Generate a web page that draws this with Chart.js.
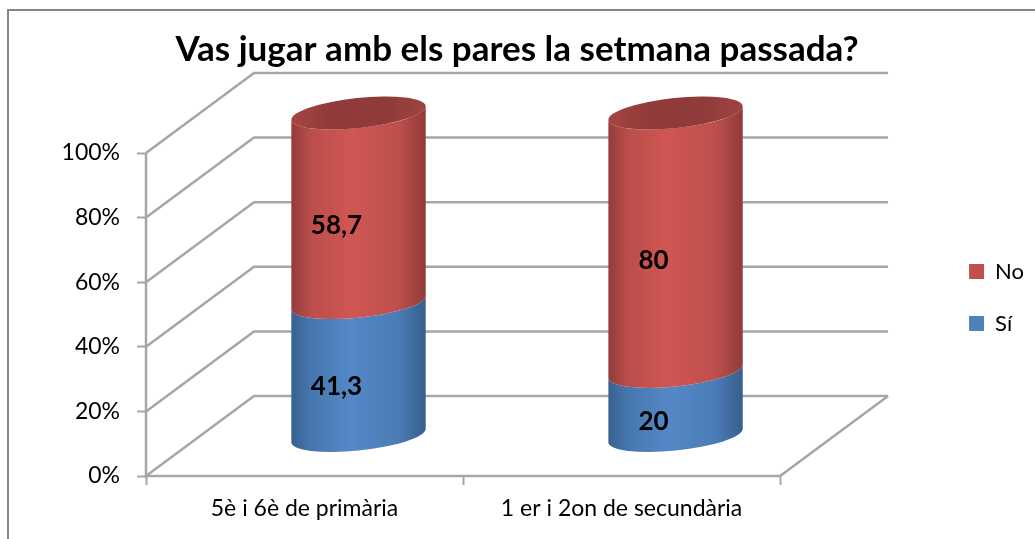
<!DOCTYPE html>
<html>
<head>
<meta charset="utf-8">
<style>
  html, body { margin: 0; padding: 0; background: #fff; overflow: hidden; }
  #wrap { position: relative; width: 1035px; height: 539px; }
</style>
<script src="https://cdn.jsdelivr.net/npm/chart.js@4/dist/chart.umd.min.js"></script>
</head>
<body>
<div id="wrap"><canvas id="myChart" width="1035" height="539"></canvas></div>
<script>
const categories = ["5è i 6è de primària", "1 er i 2on de secundària"];
const siValues = [41.3, 20];
const noValues = [58.7, 80];
const seriesNames = ["Sí", "No"];
const titleText = "Vas jugar amb els pares la setmana passada?";

// depth of the fake 3d box
const DEPTH_X = 108, DEPTH_Y = -80;
const GRID = "#a6a6a6";
const FONT = "Lato";

const BLUE = { base: "#4f81bd", stops: ["#37608f", "#4777b0", "#5488c6", "#4a7bb5", "#375e8c"] };
const RED = { base: "#c0504d", stops: ["#923c3a", "#bb4e4b", "#d05653", "#bd4f4c", "#8f3a38"] };
const STOP_POS = [0, 0.15, 0.45, 0.8, 1];

function cylinder(ctx, cx, yTop, yBot, halfW, colors) {
  const a = halfW, b = 15, rot = -6 * Math.PI / 180;
  const t0 = Math.atan(-(b / a) * Math.tan(rot));
  const grad = ctx.createLinearGradient(cx - a, 0, cx + a, 0);
  colors.stops.forEach((c, i) => grad.addColorStop(STOP_POS[i], c));
  ctx.beginPath();
  ctx.ellipse(cx, yBot, a, b, rot, t0, t0 + Math.PI);
  ctx.ellipse(cx, yTop, a, b, rot, t0 + Math.PI, t0, true);
  ctx.closePath();
  ctx.fillStyle = grad;
  ctx.fill();
}

function topCap(ctx, cx, y, halfW) {
  const grad = ctx.createLinearGradient(cx - halfW, 0, cx + halfW, 0);
  grad.addColorStop(0, "#a54543");
  grad.addColorStop(0.3, "#8f3b39");
  grad.addColorStop(0.7, "#8f3b39");
  grad.addColorStop(1, "#a04341");
  ctx.beginPath();
  ctx.ellipse(cx, y, halfW, 15, -6 * Math.PI / 180, 0, Math.PI * 2);
  ctx.fillStyle = grad;
  ctx.fill();
}

const box3d = {
  id: "box3d",
  beforeDraw(chart) {
    // outer frame
    const ctx = chart.ctx;
    ctx.save();
    ctx.strokeStyle = "#868686";
    ctx.lineWidth = 2;
    ctx.beginPath();
    ctx.moveTo(8, 539);
    ctx.lineTo(8, 10);
    ctx.lineTo(1035, 10);
    ctx.stroke();
    ctx.restore();
  },
  beforeDatasetsDraw(chart) {
    const ctx = chart.ctx, x = chart.scales.x, y = chart.scales.y;
    ctx.save();
    ctx.strokeStyle = GRID;
    ctx.lineWidth = 2.5;
    ctx.lineJoin = "miter";
    y.ticks.forEach(t => {
      const py = y.getPixelForValue(t.value);
      ctx.beginPath();
      ctx.moveTo(x.left, py);
      ctx.lineTo(x.left + DEPTH_X, py + DEPTH_Y);
      ctx.lineTo(x.right + DEPTH_X, py + DEPTH_Y);
      ctx.stroke();
    });
    // floor edge and left wall upright
    const y0 = y.getPixelForValue(0);
    ctx.beginPath();
    ctx.moveTo(x.left, y.top);
    ctx.lineTo(x.left, y0);
    ctx.lineTo(x.right, y0);
    ctx.lineTo(x.right + DEPTH_X, y0 + DEPTH_Y);
    ctx.stroke();

    // cylinders, bottom segment first
    const lastTop = [];
    [[0, BLUE], [1, RED]].forEach(([ds, colors]) => {
      chart.getDatasetMeta(ds).data.forEach((bar, i) => {
        const cx = bar.x + DEPTH_X / 2, halfW = bar.width / 2;
        cylinder(ctx, cx, bar.y + DEPTH_Y / 2, bar.base + DEPTH_Y / 2, halfW, colors);
        lastTop[i] = { cx, y: bar.y + DEPTH_Y / 2, halfW };
      });
    });
    lastTop.forEach(c => topCap(ctx, c.cx, c.y, c.halfW));

    // value labels
    ctx.fillStyle = "#000";
    ctx.font = "bold 26px " + FONT;
    ctx.textAlign = "center";
    ctx.textBaseline = "middle";
    chart.data.datasets.forEach((d, ds) => {
      chart.getDatasetMeta(ds).data.forEach((bar, i) => {
        const label = String(d.data[i]).replace(".", ",");
        ctx.fillText(label, bar.x + 32, (bar.y + bar.base) / 2 - 22);
      });
    });
    ctx.restore();
    return false;
  },
};

new Chart(document.getElementById("myChart"), {
  type: "bar",
  data: {
    labels: categories,
    datasets: [
      { label: seriesNames[0], data: siValues, backgroundColor: BLUE.base, borderWidth: 0 },
      { label: seriesNames[1], data: noValues, backgroundColor: RED.base, borderWidth: 0 },
    ],
  },
  plugins: [box3d],
  options: {
    responsive: false,
    animation: false,
    layout: { padding: { top: 0, left: 0, right: 1, bottom: 0 } },
    datasets: { bar: { barPercentage: 0.426, categoryPercentage: 1 } },
    plugins: {
      tooltip: { enabled: false },
      title: {
        display: true,
        text: titleText,
        color: "#000",
        font: { family: FONT, size: 35, weight: "bold" },
        padding: { top: 29, bottom: 82 },
      },
      legend: {
        position: "right",
        reverse: true,
        // blank legend title pushes the two entries down to where they sit in the original
        title: { display: true, text: " ", font: { size: 10 }, padding: 22 },
        labels: {
          boxWidth: 15,
          boxHeight: 15,
          padding: 30,
          color: "#000",
          font: { family: FONT, size: 22 },
        },
      },
    },
    scales: {
      x: {
        stacked: true,
        afterFit(s) { s.height = 63; },
        grid: { drawOnChartArea: false, tickLength: 9, tickColor: GRID, tickWidth: 2 },
        border: { display: false },
        ticks: { color: "#000", padding: 10, maxRotation: 0, font: { family: FONT, size: 23 } },
      },
      y: {
        stacked: true,
        min: 0,
        max: 100,
        afterFit(s) { s.width = 146; },
        grid: { drawOnChartArea: false, tickLength: 9, tickColor: GRID, tickWidth: 2 },
        border: { display: false },
        ticks: {
          stepSize: 20,
          color: "#000",
          padding: 17,
          font: { family: FONT, size: 23 },
          callback: v => v + "%",
        },
      },
      // empty axis only to keep the gap between plot and legend
      gap: {
        position: "right",
        display: true,
        afterFit(s) { s.width = 159; },
        grid: { display: false },
        border: { display: false },
        ticks: { display: false },
      },
    },
  },
});
</script>
</body>
</html>
